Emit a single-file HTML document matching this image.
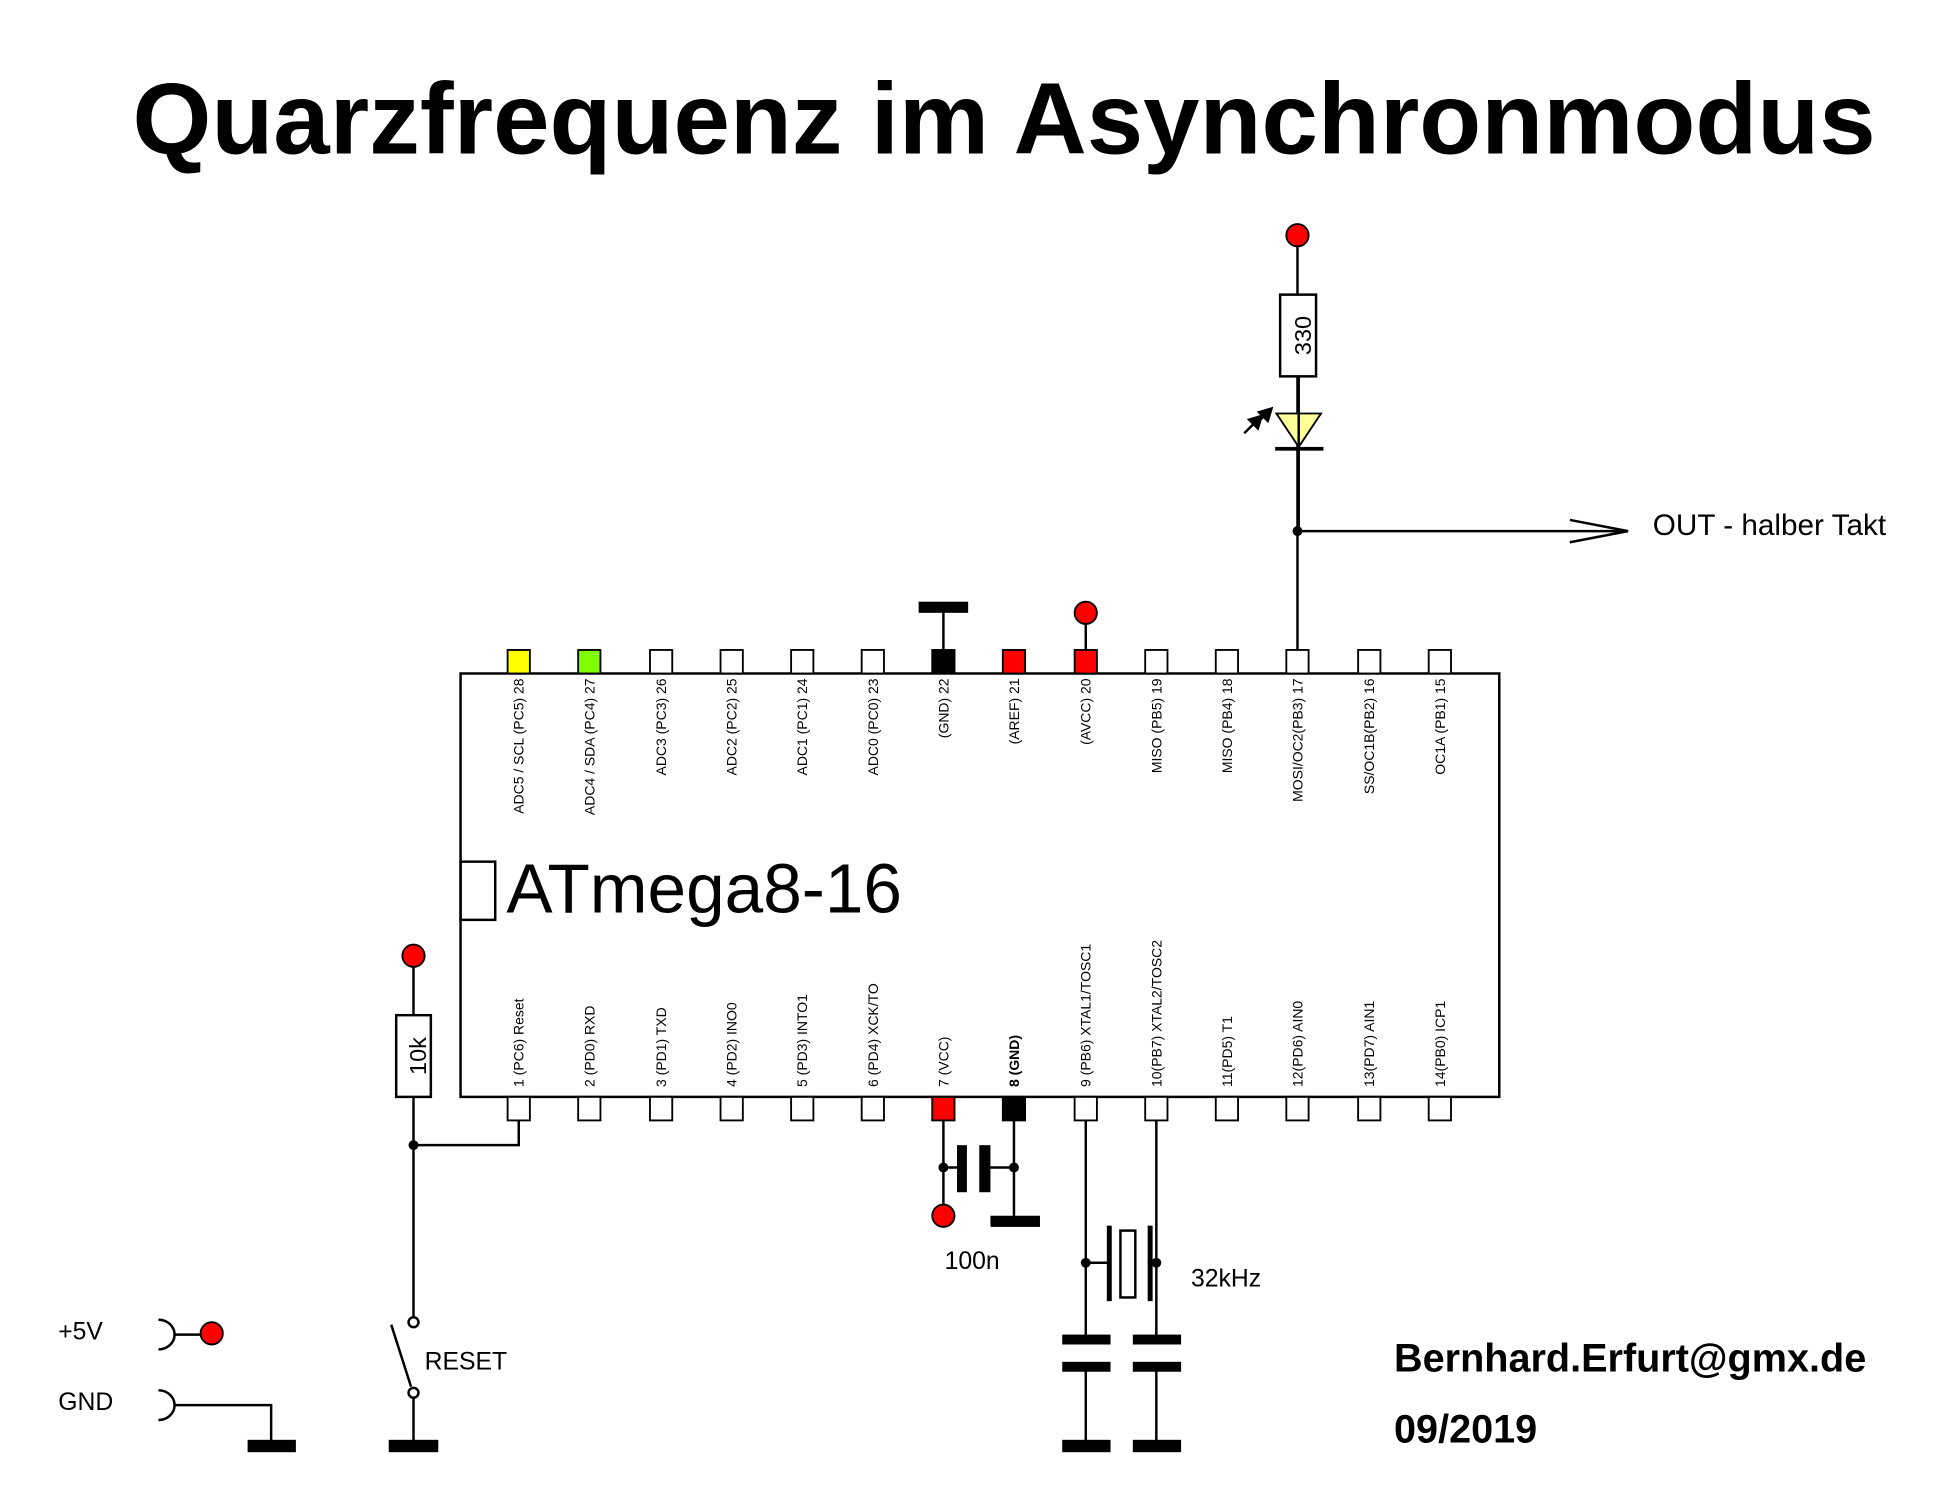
<!DOCTYPE html>
<html><head><meta charset="utf-8"><style>html,body{margin:0;padding:0;background:#fff}svg{display:block}</style></head>
<body>
<svg width="1942" height="1512" viewBox="0 0 1568.6 1221.3" preserveAspectRatio="none" xmlns="http://www.w3.org/2000/svg" font-family="Liberation Sans, Arial, sans-serif">
<rect width="1570" height="1222" fill="#fff"/>
<text x="107" y="124" font-size="82" font-weight="bold" textLength="1408" lengthAdjust="spacingAndGlyphs">Quarzfrequenz im Asynchronmodus</text>

<g stroke="#000" stroke-width="2" fill="none">
<rect x="372" y="544" width="839" height="342" fill="#fff"/>
<rect x="372" y="696" width="28" height="47"/>
<line x1="762" y1="490" x2="762" y2="525"/>
<line x1="877" y1="495" x2="877" y2="525"/>
<line x1="1048" y1="190" x2="1048" y2="525"/>
<line x1="1048" y1="429" x2="1315" y2="429"/>
<polyline points="1268,420 1315,429 1268,438"/>
<rect x="1034" y="238" width="29" height="66" fill="#fff"/>
<line x1="334" y1="772" x2="334" y2="1064"/>
<rect x="320" y="820" width="28" height="66" fill="#fff"/>
<polyline points="334,925 419,925 419,905"/>
<line x1="316" y1="1070" x2="332" y2="1120"/>
<line x1="334" y1="1129" x2="334" y2="1165"/>
<circle cx="334" cy="1068" r="4" fill="#fff"/>
<circle cx="334" cy="1125" r="4" fill="#fff"/>
<path d="M128,1066 A13,12 0 0 1 128,1090"/>
<line x1="141" y1="1078" x2="165" y2="1078"/>
<path d="M128,1123 A13,12 0 0 1 128,1147"/>
<polyline points="141,1135 219,1135 219,1165"/>
<line x1="762" y1="905" x2="762" y2="975"/>
<line x1="819" y1="905" x2="819" y2="985"/>
<line x1="762" y1="943" x2="776" y2="943"/>
<line x1="798" y1="943" x2="819" y2="943"/>
<line x1="877" y1="905" x2="877" y2="1082"/>
<line x1="934" y1="905" x2="934" y2="1082"/>
<line x1="877" y1="1104" x2="877" y2="1165"/>
<line x1="934" y1="1104" x2="934" y2="1165"/>
<line x1="877" y1="1020" x2="897" y2="1020"/>
<line x1="927" y1="1020" x2="934" y2="1020"/>
<rect x="905" y="994" width="12" height="54" fill="#fff"/>
</g>
<g fill="#000">
<rect x="742" y="486" width="40" height="9"/>
<rect x="1030" y="361" width="39" height="3"/>
<rect x="314" y="1163" width="40" height="10"/>
<rect x="200" y="1163" width="39" height="10"/>
<rect x="773" y="925" width="8" height="38"/>
<rect x="791" y="925" width="9" height="38"/>
<rect x="800" y="982" width="40" height="9"/>
<rect x="894" y="990" width="4" height="61"/>
<rect x="927" y="990" width="4" height="61"/>
<rect x="858" y="1078" width="39" height="8"/>
<rect x="858" y="1100" width="39" height="8"/>
<rect x="915" y="1078" width="39" height="8"/>
<rect x="915" y="1100" width="39" height="8"/>
<rect x="858" y="1163" width="39" height="10"/>
<rect x="915" y="1163" width="39" height="10"/>
<circle cx="1048" cy="429" r="4"/>
<circle cx="334" cy="925" r="4"/>
<circle cx="762" cy="943" r="4"/>
<circle cx="819" cy="943" r="4"/>
<circle cx="877" cy="1020" r="4"/>
<circle cx="934" cy="1020" r="4"/>
</g>
<polygon points="1031,334 1067,334 1049,361" fill="#ffff99" stroke="#000" stroke-width="1.5"/>
<line x1="1049" y1="304" x2="1049" y2="429" stroke="#000" stroke-width="2"/>
<g stroke="#000" stroke-width="2" fill="#000">
<line x1="1005" y1="350" x2="1014" y2="341"/><polygon points="1019,336 1009,339 1016,346"/>
<line x1="1014" y1="343" x2="1022" y2="335"/><polygon points="1027,330 1017,333 1024,340"/>
</g>
<g fill="#f00" stroke="#000" stroke-width="1.5">
<circle cx="1048" cy="190" r="9"/>
<circle cx="877" cy="495" r="9"/>
<circle cx="334" cy="772" r="9"/>
<circle cx="762" cy="982" r="9"/>
<circle cx="171" cy="1077" r="9"/>
</g>

<g stroke="#000" stroke-width="1.5">
<rect x="410" y="525" width="18" height="19" fill="#ffff00"/>
<rect x="467" y="525" width="18" height="19" fill="#80ff00"/>
<rect x="525" y="525" width="18" height="19" fill="#fff"/>
<rect x="582" y="525" width="18" height="19" fill="#fff"/>
<rect x="639" y="525" width="18" height="19" fill="#fff"/>
<rect x="696" y="525" width="18" height="19" fill="#fff"/>
<rect x="753" y="525" width="18" height="19" fill="#000"/>
<rect x="810" y="525" width="18" height="19" fill="#f00"/>
<rect x="868" y="525" width="18" height="19" fill="#f00"/>
<rect x="925" y="525" width="18" height="19" fill="#fff"/>
<rect x="982" y="525" width="18" height="19" fill="#fff"/>
<rect x="1039" y="525" width="18" height="19" fill="#fff"/>
<rect x="1097" y="525" width="18" height="19" fill="#fff"/>
<rect x="1154" y="525" width="18" height="19" fill="#fff"/>
<rect x="410" y="886" width="18" height="19" fill="#fff"/>
<rect x="467" y="886" width="18" height="19" fill="#fff"/>
<rect x="525" y="886" width="18" height="19" fill="#fff"/>
<rect x="582" y="886" width="18" height="19" fill="#fff"/>
<rect x="639" y="886" width="18" height="19" fill="#fff"/>
<rect x="696" y="886" width="18" height="19" fill="#fff"/>
<rect x="753" y="886" width="18" height="19" fill="#f00"/>
<rect x="810" y="886" width="18" height="19" fill="#000"/>
<rect x="868" y="886" width="18" height="19" fill="#fff"/>
<rect x="925" y="886" width="18" height="19" fill="#fff"/>
<rect x="982" y="886" width="18" height="19" fill="#fff"/>
<rect x="1039" y="886" width="18" height="19" fill="#fff"/>
<rect x="1097" y="886" width="18" height="19" fill="#fff"/>
<rect x="1154" y="886" width="18" height="19" fill="#fff"/>
</g>

<g font-size="11.3" text-anchor="end">
<text transform="translate(423,548) rotate(-90)">ADC5 / SCL (PC5) 28</text>
<text transform="translate(480,548) rotate(-90)">ADC4 / SDA (PC4) 27</text>
<text transform="translate(538,548) rotate(-90)">ADC3 (PC3) 26</text>
<text transform="translate(595,548) rotate(-90)">ADC2 (PC2) 25</text>
<text transform="translate(652,548) rotate(-90)">ADC1 (PC1) 24</text>
<text transform="translate(709,548) rotate(-90)">ADC0 (PC0) 23</text>
<text transform="translate(766,548) rotate(-90)">(GND) 22</text>
<text transform="translate(823,548) rotate(-90)">(AREF) 21</text>
<text transform="translate(881,548) rotate(-90)">(AVCC) 20</text>
<text transform="translate(938,548) rotate(-90)">MISO (PB5) 19</text>
<text transform="translate(995,548) rotate(-90)">MISO (PB4) 18</text>
<text transform="translate(1052,548) rotate(-90)">MOSI/OC2(PB3) 17</text>
<text transform="translate(1110,548) rotate(-90)">SS/OC1B(PB2) 16</text>
<text transform="translate(1167,548) rotate(-90)">OC1A (PB1) 15</text>
</g>
<g font-size="11.3">
<text transform="translate(423,878) rotate(-90)">1 (PC6) Reset</text>
<text transform="translate(480,878) rotate(-90)">2 (PD0) RXD</text>
<text transform="translate(538,878) rotate(-90)">3 (PD1) TXD</text>
<text transform="translate(595,878) rotate(-90)">4 (PD2) INO0</text>
<text transform="translate(652,878) rotate(-90)">5 (PD3) INTO1</text>
<text transform="translate(709,878) rotate(-90)">6 (PD4) XCK/TO</text>
<text transform="translate(766,878) rotate(-90)">7 (VCC)</text>
<text transform="translate(823,878) rotate(-90)" font-weight="bold">8 (GND)</text>
<text transform="translate(881,878) rotate(-90)">9 (PB6) XTAL1/TOSC1</text>
<text transform="translate(938,878) rotate(-90)">10(PB7) XTAL2/TOSC2</text>
<text transform="translate(995,878) rotate(-90)">11(PD5) T1</text>
<text transform="translate(1052,878) rotate(-90)">12(PD6) AIN0</text>
<text transform="translate(1110,878) rotate(-90)">13(PD7) AIN1</text>
<text transform="translate(1167,878) rotate(-90)">14(PB0) ICP1</text>
</g>

<text x="409" y="737" font-size="56">ATmega8-16</text>
<text transform="translate(1059,271) rotate(-90)" font-size="19" text-anchor="middle">330</text>
<text transform="translate(344,853) rotate(-90)" font-size="19" text-anchor="middle">10k</text>
<text x="1335" y="432" font-size="24">OUT - halber Takt</text>
<text x="763" y="1025" font-size="20">100n</text>
<text x="962" y="1039" font-size="20">32kHz</text>
<text x="343" y="1106" font-size="20">RESET</text>
<text x="47" y="1082" font-size="20">+5V</text>
<text x="47" y="1139" font-size="20">GND</text>
<text x="1126" y="1108" font-size="32" font-weight="bold">Bernhard.Erfurt@gmx.de</text>
<text x="1126" y="1165" font-size="32" font-weight="bold">09/2019</text>
</svg>
</body></html>
